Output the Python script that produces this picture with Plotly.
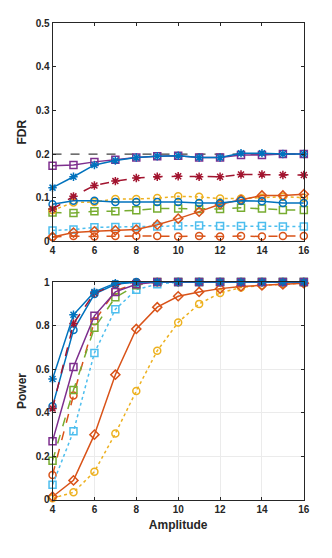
import plotly.graph_objects as go
from plotly.subplots import make_subplots

amplitude = [4, 5, 6, 7, 8, 9, 10, 11, 12, 13, 14, 15, 16]
target_fdr = [0.2, 0.2]

fdr_blue_star = [0.123, 0.148, 0.175, 0.185, 0.192, 0.195, 0.196, 0.192, 0.192, 0.202, 0.202, 0.200, 0.200]
fdr_blue_circle = [0.085, 0.093, 0.093, 0.090, 0.090, 0.090, 0.090, 0.088, 0.088, 0.093, 0.092, 0.088, 0.088]
fdr_purple_square = [0.173, 0.175, 0.182, 0.187, 0.192, 0.195, 0.196, 0.192, 0.192, 0.198, 0.198, 0.200, 0.200]
fdr_red_star = [0.074, 0.103, 0.128, 0.138, 0.145, 0.148, 0.149, 0.148, 0.148, 0.153, 0.153, 0.152, 0.152]
fdr_yellow_circle = [0.071, 0.089, 0.090, 0.097, 0.097, 0.099, 0.103, 0.102, 0.098, 0.098, 0.100, 0.102, 0.100]
fdr_green_square = [0.066, 0.065, 0.069, 0.069, 0.071, 0.075, 0.075, 0.074, 0.074, 0.077, 0.075, 0.072, 0.072]
fdr_cyan_square = [0.025, 0.027, 0.032, 0.033, 0.033, 0.034, 0.035, 0.036, 0.035, 0.035, 0.035, 0.034, 0.034]
fdr_orange_circle = [0.010, 0.012, 0.011, 0.012, 0.012, 0.012, 0.011, 0.012, 0.011, 0.012, 0.011, 0.012, 0.012]
fdr_orange_diamond = [0.010, 0.020, 0.023, 0.025, 0.027, 0.038, 0.052, 0.068, 0.085, 0.095, 0.105, 0.105, 0.108]

pow_blue_star = [0.555, 0.850, 0.955, 0.995, 1.0, 1.0, 1.0, 1.0, 1.0, 1.0, 1.0, 1.0, 1.0]
pow_blue_circle = [0.430, 0.780, 0.945, 0.990, 1.0, 1.0, 1.0, 1.0, 1.0, 1.0, 1.0, 1.0, 1.0]
pow_purple_square = [0.270, 0.610, 0.845, 0.955, 0.990, 1.0, 1.0, 1.0, 1.0, 1.0, 1.0, 1.0, 1.0]
pow_red_star = [0.420, 0.810, 0.950, 0.990, 1.0, 1.0, 1.0, 1.0, 1.0, 1.0, 1.0, 1.0, 1.0]
pow_yellow_circle = [0.008, 0.035, 0.130, 0.305, 0.500, 0.685, 0.815, 0.900, 0.950, 0.975, 0.985, 0.990, 0.995]
pow_green_square = [0.180, 0.505, 0.790, 0.930, 0.985, 1.0, 1.0, 1.0, 1.0, 1.0, 1.0, 1.0, 1.0]
pow_cyan_square = [0.070, 0.315, 0.675, 0.875, 0.965, 0.990, 1.0, 1.0, 1.0, 1.0, 1.0, 1.0, 1.0]
pow_orange_circle = [0.115, 0.480, 0.820, 0.960, 0.995, 1.0, 1.0, 1.0, 1.0, 1.0, 1.0, 1.0, 1.0]
pow_orange_diamond = [0.015, 0.090, 0.300, 0.575, 0.785, 0.885, 0.935, 0.955, 0.970, 0.980, 0.985, 0.990, 0.995]

# (fdr, power, colour, dash, marker) in drawing order
series = [
    (fdr_orange_circle, pow_orange_circle, '#D95319', 'dash', 'circle-open'),
    (fdr_cyan_square, pow_cyan_square, '#4DBEEE', 'dot', 'square-open'),
    (fdr_green_square, pow_green_square, '#77AC30', 'dash', 'square-open'),
    (fdr_yellow_circle, pow_yellow_circle, '#EDB120', 'dot', 'circle-open'),
    (fdr_orange_diamond, pow_orange_diamond, '#D95319', 'solid', 'diamond-open'),
    (fdr_blue_circle, pow_blue_circle, '#0072BD', 'solid', 'circle-open'),
    (fdr_red_star, pow_red_star, '#A2142F', 'dash', 'asterisk-open'),
    (fdr_purple_square, pow_purple_square, '#7E2F8E', 'solid', 'square-open'),
    (fdr_blue_star, pow_blue_star, '#0072BD', 'solid', 'asterisk-open'),
]

fig = make_subplots(rows=2, cols=1)

fig.add_trace(go.Scatter(
    x=[amplitude[0], amplitude[-1]], y=target_fdr, mode='lines',
    line=dict(color='#404040', width=1.3, dash='dash'), showlegend=False
), row=1, col=1)

for fdr, power, color, dash, marker in series:
    for row, vals in ((1, fdr), (2, power)):
        fig.add_trace(go.Scatter(
            x=amplitude, y=vals, mode='lines+markers', cliponaxis=False,
            line=dict(color=color, width=1.5, dash=dash),
            marker=dict(symbol=marker, size=7, color=color, line=dict(width=1.5, color=color)),
            showlegend=False
        ), row=row, col=1)

axis_style = dict(
    showline=True, mirror='ticks', linecolor='#262626', linewidth=1,
    ticks='inside', ticklen=3, tickcolor='#262626', zeroline=False,
    tickfont=dict(family='Liberation Sans', size=10, color='#262626', weight='bold'),
)
title_font = dict(family='Liberation Sans', size=12, color='#262626', weight='bold')

fig.update_xaxes(axis_style, range=[4, 16], tickvals=[4, 6, 8, 10, 12, 14, 16])
fig.update_xaxes(domain=[0.1286, 0.9066], showgrid=False, row=1, col=1)
fig.update_xaxes(domain=[0.1286, 0.9066], showgrid=True, gridcolor='#ebebeb',
                 title=dict(text='Amplitude', standoff=6, font=title_font),
                 row=2, col=1)

fig.update_yaxes(axis_style)
fig.update_yaxes(domain=[0.5837, 0.9833], range=[0, 0.5], tickvals=[0, 0.1, 0.2, 0.3, 0.4, 0.5],
                 ticktext=['0', '0.1', '0.2', '0.3', '0.4', '0.5'], showgrid=False,
                 title=dict(text='FDR', standoff=6, font=title_font),
                 row=1, col=1)
fig.update_yaxes(domain=[0.1099, 0.509], range=[0, 1], tickvals=[0, 0.2, 0.4, 0.6, 0.8, 1],
                 ticktext=['0', '0.2', '0.4', '0.6', '0.8', '1'], showgrid=True, gridcolor='#ebebeb',
                 title=dict(text='Power', standoff=6, font=title_font),
                 row=2, col=1)

fig.update_layout(
    width=332, height=558,
    margin=dict(l=0, r=0, t=0, b=0),
    plot_bgcolor='white', paper_bgcolor='white',
)

fig.write_html("out.html")
